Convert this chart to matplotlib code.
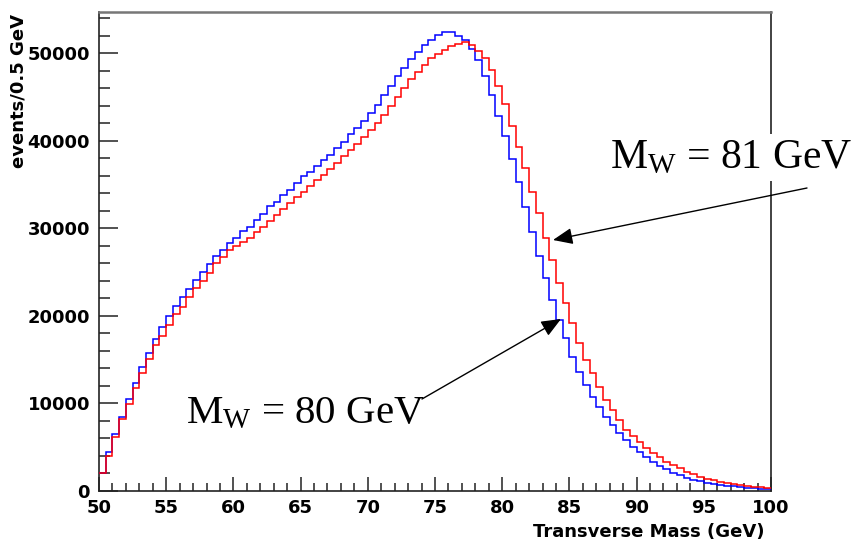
import numpy as np
import matplotlib
matplotlib.use("Agg")
import matplotlib.pyplot as plt
from matplotlib.ticker import MultipleLocator

# Transverse mass histogram, 0.5 GeV bins from 50 to 100 GeV
bin_edges_lo = 50.0
bin_edges_hi = 100.0
n_bins = 100

mw80 = [2020, 4490, 6510, 8500, 10470, 12310, 14130, 15800, 17370, 18710,
        20000, 21140, 22200, 23120, 24120, 25060, 25900, 26780, 27540, 28300,
        28880, 29640, 30200, 30970, 31640, 32490, 33050, 33820, 34400, 35160,
        35920, 36480, 37140, 37830, 38390, 39160, 39910, 40790, 41440, 42200,
        43160, 44100, 45250, 46280, 47340, 48300, 49300, 50150, 50960, 51540,
        52100, 52380, 52380, 52000, 51460, 50470, 49170, 47340, 45250, 42770,
        40490, 37950, 35230, 32420, 29630, 26850, 24310, 21820, 19540, 17450,
        15350, 13630, 12110, 10780, 9640, 8500, 7540, 6590, 5830, 5070,
        4490, 3920, 3350, 2860, 2470, 2100, 1800, 1520, 1260, 1110,
        950, 840, 730, 610, 530, 450, 380, 300, 260, 230]

mw81 = [2020, 4040, 6130, 8190, 9940, 11730, 13520, 15040, 16680, 17710,
        18970, 20220, 21060, 22200, 23160, 24030, 24870, 26010, 26700, 27540,
        27950, 28400, 28880, 29520, 30200, 30850, 31540, 32190, 32870, 33560,
        34200, 34850, 35460, 36110, 36760, 37440, 38200, 38970, 39650, 40410,
        41170, 42000, 42960, 43910, 45050, 46000, 47000, 47900, 48700, 49400,
        49950, 50400, 50800, 51050, 51230, 50900, 50300, 49400, 48100, 46300,
        44200, 41700, 39300, 36880, 34200, 31730, 28880, 26400, 23730, 21450,
        19160, 16880, 14970, 13450, 11920, 10390, 9250, 8110, 6970, 6290,
        5630, 4870, 4380, 3840, 3350, 2970, 2590, 2210, 1950, 1630,
        1400, 1260, 1060, 950, 840, 730, 580, 490, 420, 310]

xticks = [50, 55, 60, 65, 70, 75, 80, 85, 90, 95, 100]
yticks = [0, 10000, 20000, 30000, 40000, 50000]

label_81 = r"M$_{\mathrm{W}}$ = 81 GeV"
label_80 = r"M$_{\mathrm{W}}$ = 80 GeV"

plt.rcParams["mathtext.fontset"] = "custom"
plt.rcParams["mathtext.rm"] = "Liberation Serif"
plt.rcParams["mathtext.it"] = "Liberation Serif:italic"

W, H = 868, 542
fig = plt.figure(figsize=(W / 100, H / 100), dpi=100)
ax = fig.add_axes([99 / W, 1 - 491 / H, (771 - 99) / W, (491 - 12) / H])

edges = np.linspace(bin_edges_lo, bin_edges_hi, n_bins + 1)
ax.stairs(mw80, edges, baseline=None, color="#0000ff", linewidth=1.1, zorder=3)
ax.stairs(mw81, edges, baseline=None, color="#ff0000", linewidth=1.1, zorder=3)

ax.set_xlim(50, 100)
ax.set_ylim(0, 54700)

ax.set_xticks(xticks)
ax.set_xticklabels([str(t) for t in xticks])
ax.set_yticks(yticks)
ax.set_yticklabels([str(t) for t in yticks])
ax.xaxis.set_minor_locator(MultipleLocator(1))
ax.yaxis.set_minor_locator(MultipleLocator(2000))

ax.tick_params(axis="both", which="both", direction="in", top=False, right=False,
               color="#222222", width=1.1)
ax.tick_params(axis="y", which="major", length=13.5, pad=6.5)
ax.tick_params(axis="y", which="minor", length=8)
ax.tick_params(axis="x", which="major", length=10, pad=6)
ax.tick_params(axis="x", which="minor", length=5.8)
for lab in ax.get_xticklabels() + ax.get_yticklabels():
    lab.set_fontfamily("DejaVu Sans")
    lab.set_fontweight("bold")
    lab.set_fontsize(13)

for s in ax.spines.values():
    s.set_linewidth(1.2)
    s.set_color("#222222")
ax.spines["top"].set_color("#777777")
ax.spines["top"].set_linewidth(1.8)

ax.set_ylabel("events/0.5 GeV", fontfamily="DejaVu Sans", fontweight="bold",
              fontsize=13, loc="top")
ax.yaxis.set_label_coords(-0.107, 0.995)
ax.set_xlabel("Transverse Mass (GeV)", fontfamily="DejaVu Sans", fontweight="bold",
              fontsize=13, loc="right")
ax.xaxis.set_label_coords(0.991, -0.066)


def px_to_data(px, py):
    x = 50 + (px - 99) / (672 / 50)
    y = (491 - py) / 479 * 54700
    return x, y


# annotations
tip81 = px_to_data(553, 240)
start81 = px_to_data(807, 188)
tip80 = px_to_data(561, 319)
start80 = px_to_data(422, 399)
arrow = dict(arrowstyle="-|>,head_length=1.2,head_width=0.5", color="black",
             linewidth=1.0, shrinkA=0, shrinkB=0)
ax.annotate("", xy=tip81, xytext=start81, arrowprops=arrow, annotation_clip=False, zorder=6)
ax.annotate("", xy=tip80, xytext=start80, arrowprops=arrow, annotation_clip=False, zorder=6)

t81 = ax.text(*px_to_data(610, 168), label_81, fontfamily="Liberation Serif", fontsize=30,
              ha="left", va="baseline", clip_on=False, zorder=5,
              bbox=dict(facecolor="white", edgecolor="none", pad=3))
t80 = ax.text(*px_to_data(186, 423), label_80, fontfamily="Liberation Serif", fontsize=29.5,
              ha="left", va="baseline", clip_on=False, zorder=5)

fig.savefig("out.png", dpi=100)
